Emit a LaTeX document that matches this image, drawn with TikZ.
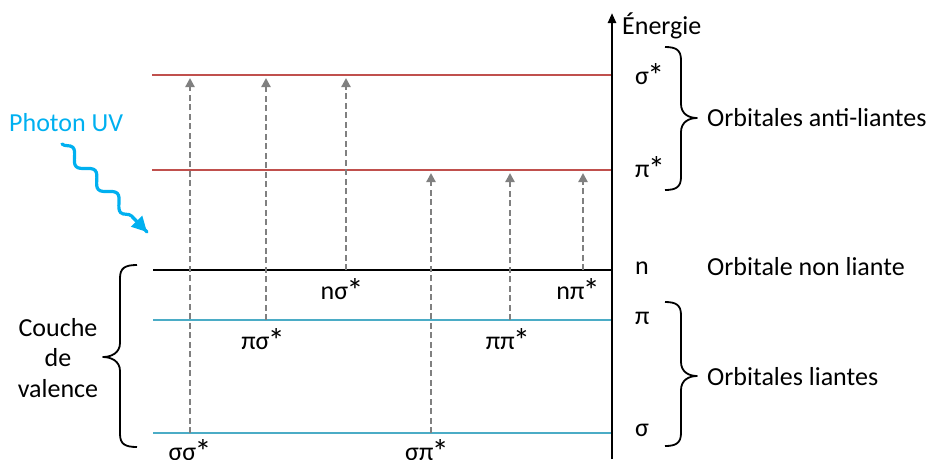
\documentclass[tikz,border=0pt]{standalone}
\usepackage{fontspec}
\usepackage{graphicx}
\setmainfont{Carlito}
\usetikzlibrary{arrows.meta,calc,decorations.pathmorphing}
\definecolor{redlvl}{RGB}{192,80,77}
\definecolor{bluelvl}{RGB}{75,172,198}
\definecolor{photon}{RGB}{0,176,240}
\definecolor{transgray}{RGB}{128,128,128}
\newcommand\bigstar{\kern-0.06em\raisebox{-0.1em}{\scalebox{1.3}{*}}}
\tikzset{
  lvl/.style={line width=2.2pt},
  trans/.style={transgray,line width=2.2pt,dash pattern=on 6pt off 3.5pt,-{Triangle[width=9pt,length=9pt]}},
  lbl/.style={font=\fontsize{26}{30}\selectfont,inner sep=0pt},
  brc/.style={line width=1.8pt,line join=round},
}
\begin{document}
\begin{tikzpicture}[x=1pt,y=-1pt]
\useasboundingbox (0,0) rectangle (933,459);
% levels
\coordinate (ssL) at (152,75);  \coordinate (ssR) at (612,75);
\coordinate (psL) at (152,170); \coordinate (psR) at (612,170);
\coordinate (nL) at (153,270);  \coordinate (nR) at (612,270);
\coordinate (pL) at (153,320);  \coordinate (pR) at (612,320);
\coordinate (sL) at (153,433);  \coordinate (sR) at (612,433);
\draw[lvl,redlvl] (ssL) -- (ssR);
\draw[lvl,redlvl] (psL) -- (psR);
\draw[lvl,black] (nL) -- (nR);
\draw[lvl,bluelvl] (pL) -- (pR);
\draw[lvl,bluelvl] (sL) -- (sR);
% axis
\coordinate (axB) at (612,459);
\coordinate (axT) at (612,13);
\draw[line width=2.4pt,-{Triangle[width=8pt,length=10pt]}] (axB) -- (axT);
\node[lbl,anchor=west] (energie) at (622,26) {Énergie};
% transitions
\coordinate (t1s) at (190,433); \coordinate (t1e) at (190,78);
\coordinate (t2s) at (266,320); \coordinate (t2e) at (266,78);
\coordinate (t3s) at (346,270); \coordinate (t3e) at (346,78);
\coordinate (t4s) at (431,433); \coordinate (t4e) at (431,173);
\coordinate (t5s) at (510,320); \coordinate (t5e) at (510,173);
\coordinate (t6s) at (583,270); \coordinate (t6e) at (583,173);
\draw[trans] (t1s) -- (t1e);
\draw[trans] (t2s) -- (t2e);
\draw[trans] (t3s) -- (t3e);
\draw[trans] (t4s) -- (t4e);
\draw[trans] (t5s) -- (t5e);
\draw[trans] (t6s) -- (t6e);
\node[lbl] (l1) at (190,451) {σσ\bigstar};
\node[lbl] (l2) at (263,340) {πσ\bigstar};
\node[lbl] (l3) at (342,290) {nσ\bigstar};
\node[lbl] (l4) at (427,451) {σπ\bigstar};
\node[lbl] (l5) at (508,340) {ππ\bigstar};
\node[lbl] (l6) at (578,290) {nπ\bigstar};
% level labels
\node[lbl,anchor=west] (e1) at (635,75) {σ\bigstar};
\node[lbl,anchor=west] (e2) at (635,168) {π\bigstar};
\node[lbl,anchor=west] (e3) at (635,268) {n};
\node[lbl,anchor=west] (e4) at (635,318) {π};
\node[lbl,anchor=west] (e5) at (635,430) {σ};
% braces
\coordinate (b1t) at (665,47);  \coordinate (b1m) at (697,118); \coordinate (b1b) at (665,190);
\draw[brc] (b1t) .. controls +(11,0) and +(0,-10) .. (681,60) -- (681,104)
  .. controls +(0,10) and +(-8,0) .. (b1m)
  .. controls +(-8,0) and +(0,-10) .. (681,132) -- (681,177)
  .. controls +(0,10) and +(11,0) .. (b1b);
\coordinate (b2t) at (665,302); \coordinate (b2m) at (697,376); \coordinate (b2b) at (665,446);
\draw[brc] (b2t) .. controls +(11,0) and +(0,-10) .. (681,315) -- (681,362)
  .. controls +(0,10) and +(-8,0) .. (b2m)
  .. controls +(-8,0) and +(0,-10) .. (681,390) -- (681,433)
  .. controls +(0,10) and +(11,0) .. (b2b);
\coordinate (b3t) at (137,265); \coordinate (b3m) at (103,357); \coordinate (b3b) at (137,447);
\draw[brc] (b3t) .. controls +(-12,0) and +(0,-10) .. (120,278) -- (120,343)
  .. controls +(0,10) and +(8,0) .. (b3m)
  .. controls +(8,0) and +(0,-10) .. (120,371) -- (120,434)
  .. controls +(0,10) and +(-12,0) .. (b3b);
\node[lbl,anchor=west] (oal) at (707,118) {Orbitales anti-liantes};
\node[lbl,anchor=west] (onl) at (707,267) {Orbitale non liante};
\node[lbl,anchor=west] (ol) at (707,377) {Orbitales liantes};
\node[lbl,align=center,font=\fontsize{26}{30.5}\selectfont] (cv) at (58,358) {Couche\\de\\valence};
% photon
\node[lbl,anchor=west,text=photon] (ph) at (9,123) {Photon UV};
\coordinate (w1) at (62,144);
\coordinate (w2) at (147,232);
\draw[photon,line width=3.2pt,line cap=round,
  decoration={snake,amplitude=5.5pt,segment length=32pt,post length=14pt},
  decorate] (w1) -- (w2);
\draw[photon,line width=3pt,-{Triangle[width=15pt,length=15pt]}] ($(w1)!0.83!(w2)$) -- (w2);
\end{tikzpicture}
\end{document}
